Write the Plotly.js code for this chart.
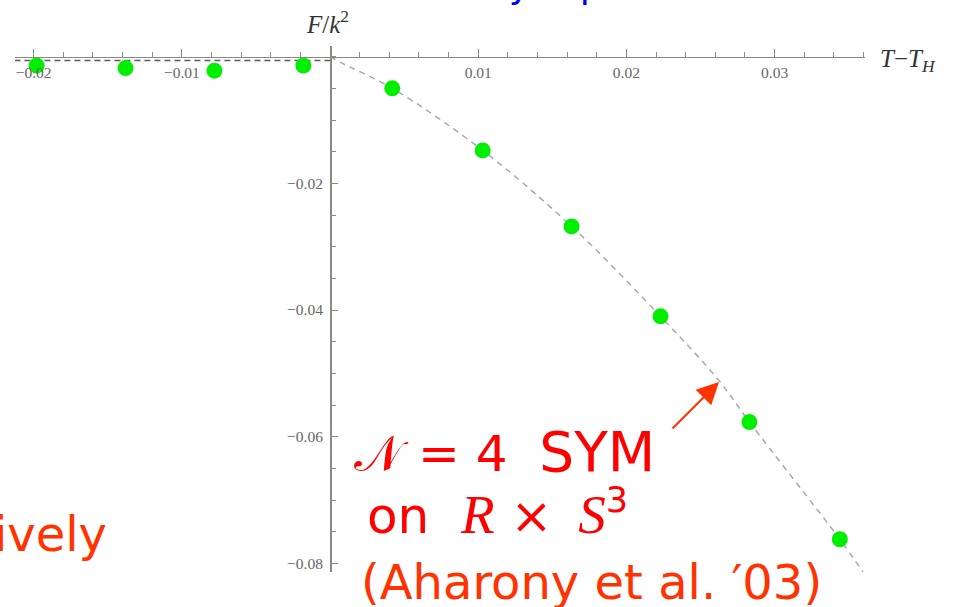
<!DOCTYPE html>
<html>
<head>
<meta charset="utf-8">
<script src="https://cdn.plot.ly/plotly-3.0.1.min.js"></script>
<style>
html,body{margin:0;padding:0;background:#fff;}
#chart{width:958px;height:607px;}
</style>
</head>
<body>
<div id="chart"></div>
<script>
// ---- data ----
const tempDiff   = [-0.0198, -0.0138, -0.0078, -0.0018, 0.0042, 0.0103, 0.0163, 0.0223, 0.0283, 0.0344];
const freeEnergy = [-0.0014, -0.0018, -0.0022, -0.0014, -0.0050, -0.0148, -0.0268, -0.0410, -0.0577, -0.0762];
const confinedX  = [-0.0213, 0];
const confinedF  = [-0.0006, -0.0006];
const curveX     = [0, 0.0007, 0.0042, 0.0103, 0.0163, 0.0223, 0.0263, 0.0283, 0.0344, 0.0360];
const curveF     = [0, -0.0009, -0.0050, -0.0148, -0.0268, -0.0410, -0.0513, -0.0577, -0.0762, -0.0815];
const xTickVals  = [-0.02, -0.01, 0.01, 0.02, 0.03];
const xTickText  = ["\u22120.02", "\u22120.01", "0.01", "0.02", "0.03"];
const yTickVals  = [-0.02, -0.04, -0.06, -0.08];
const yTickText  = ["\u22120.02", "\u22120.04", "\u22120.06", "\u22120.08"];
const xRange = [-0.02126, 0.0361];
const yRange = [-0.08137, 0.00169];

// plot area in pixels
const L = 15, R = 865, T = 46, B = 572;
const W = 958, H = 607;
function px(x){ return (x - L) / (R - L); }
function py(y){ return (B - y) / (B - T); }

const xZeroPos = (0 - yRange[0]) / (yRange[1] - yRange[0]);
const yZeroPos = (0 - xRange[0]) / (xRange[1] - xRange[0]);

const traces = [
  { x: confinedX, y: confinedF, mode: 'lines', type: 'scatter', hoverinfo: 'skip',
    line: { color: '#5a5a5a', width: 1.3, dash: '6px,4px' } },
  { x: curveX, y: curveF, mode: 'lines', type: 'scatter', hoverinfo: 'skip',
    line: { color: '#a8a8ac', width: 1.5, dash: '6px,5px', shape: 'spline' } },
  { x: tempDiff, y: freeEnergy, mode: 'markers', type: 'scatter',
    marker: { color: '#00ee00', size: 16 } }
];

const tickFont = { family: 'Liberation Serif, Times New Roman, serif', size: 15.5, color: '#666' };
const redFont = { family: 'DejaVu Sans, Verdana, sans-serif', size: 50, color: '#ff0000' };
const orangeFont = { family: 'DejaVu Sans, Verdana, sans-serif', size: 48, color: '#ff3300' };
const mathSerif = "font-family:'Liberation Serif','DejaVu Serif',serif;font-size:55px";
const NB = '\u00A0', TH = '\u2009';

const layout = {
  width: W, height: H,
  margin: { l: L, r: W - R, t: T, b: H - B, pad: 0 },
  paper_bgcolor: '#ffffff', plot_bgcolor: '#ffffff',
  showlegend: false,
  xaxis: {
    range: xRange, anchor: 'free', position: xZeroPos, side: 'bottom',
    showgrid: false, zeroline: false, showline: true, linecolor: '#8a8a84', linewidth: 1.5,
    tickmode: 'array', tickvals: xTickVals, ticktext: xTickText,
    ticks: 'inside', ticklen: 8, tickcolor: '#8a8a84', tickwidth: 1,
    minor: { dtick: 0.002, tick0: 0, ticks: 'inside', ticklen: 5, tickcolor: '#8a8a84', tickwidth: 1, showgrid: false },
    tickfont: tickFont, ticklabelstandoff: 1
  },
  yaxis: {
    range: yRange, anchor: 'free', position: yZeroPos, side: 'left',
    showgrid: false, zeroline: false, showline: true, linecolor: '#8a8a84', linewidth: 1.5,
    tickmode: 'array', tickvals: yTickVals, ticktext: yTickText,
    ticks: 'inside', ticklen: 6, tickcolor: '#8a8a84', tickwidth: 1,
    minor: { dtick: 0.005, tick0: 0, ticks: 'inside', ticklen: 4, tickcolor: '#8a8a84', tickwidth: 1, showgrid: false },
    tickfont: tickFont, ticklabelstandoff: 4
  },
  annotations: [
    { xref: 'paper', yref: 'paper', x: px(327), y: py(22), xanchor: 'center', yanchor: 'middle',
      showarrow: false, text: '<i>F</i>/<i>k</i><sup>2</sup>',
      font: { family: 'Liberation Serif, Times New Roman, serif', size: 25, color: '#333' } },
    { xref: 'paper', yref: 'paper', x: px(878), y: py(60), xanchor: 'left', yanchor: 'middle',
      showarrow: false, text: '<i>T</i>\u2212<i>T</i><sub><i>H</i></sub>',
      font: { family: 'Liberation Serif, Times New Roman, serif', size: 25, color: '#333' } },
    { xref: 'paper', yref: 'paper', x: px(767), y: py(-15.5), xanchor: 'right', yanchor: 'middle',
      showarrow: false, text: 'correctly reproduced.',
      font: { family: 'DejaVu Sans, Verdana, sans-serif', size: 37, color: '#0000ff' } },
    { xref: 'paper', yref: 'paper', x: px(352), y: py(452), xanchor: 'left', yanchor: 'middle',
      showarrow: false, text: '\uD835\uDCA9' + NB + '=' + NB + '4' + NB + NB + '<span style="font-size:55px">SYM</span>', font: redFont },
    { xref: 'paper', yref: 'paper', x: px(365), y: py(512), xanchor: 'left', yanchor: 'middle',
      showarrow: false,
      text: 'on' + NB + NB + '<span style="' + mathSerif + '"><i>R</i></span>' + NB + '\u00D7' + NB + TH +
            '<span style="' + mathSerif + '"><i>S</i></span><sup>3</sup>',
      font: redFont },
    { xref: 'paper', yref: 'paper', x: px(359), y: py(582), xanchor: 'left', yanchor: 'middle',
      showarrow: false, text: '(Aharony et al. \u203203)', font: orangeFont },
    { xref: 'paper', yref: 'paper', x: px(109), y: py(534), xanchor: 'right', yanchor: 'middle',
      showarrow: false, text: 'ively', font: orangeFont },
    { xref: 'paper', yref: 'paper', x: px(719), y: py(382), ax: -48, ay: 48,
      showarrow: true, arrowhead: 2, arrowsize: 2.2, arrowwidth: 2, arrowcolor: '#ff3300', text: '' }
  ]
};

Plotly.newPlot('chart', traces, layout, { staticPlot: true, displayModeBar: false });
</script>
</body>
</html>
